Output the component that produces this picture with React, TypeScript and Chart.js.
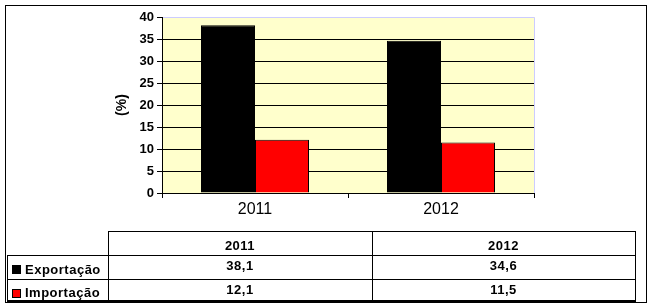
import React, { useEffect, useRef } from "react";
import { Chart, registerables } from "chart.js";

Chart.register(...registerables);

const categories = ["2011", "2012"];
const seriesNames = ["Exportação", "Importação"];
const exportacao = [38.1, 34.6];
const importacao = [12.1, 11.5];
const seriesColors = ["#000000", "#FF0000"];
const yMin = 0;
const yMax = 40;
const yStep = 5;
const yTitle = "(%)";

const FONT = "Arial, 'Liberation Sans', sans-serif";

const fmt = (v: number) => v.toFixed(1).replace(".", ",");

const plotDecor = {
  id: "plotDecor",
  beforeDraw(chart: any) {
    const { ctx, chartArea } = chart;
    ctx.save();
    ctx.fillStyle = "#FFFFCC";
    ctx.fillRect(chartArea.left, chartArea.top, chartArea.right - chartArea.left + 1, chartArea.bottom - chartArea.top);
    ctx.restore();
  },
  afterDatasetsDraw(chart: any) {
    const { ctx, chartArea } = chart;
    ctx.save();
    ctx.strokeStyle = "#CCCCFF";
    ctx.lineWidth = 1;
    ctx.beginPath();
    ctx.moveTo(chartArea.left + 1, chartArea.top + 0.5);
    ctx.lineTo(chartArea.right + 0.5, chartArea.top + 0.5);
    ctx.lineTo(chartArea.right + 0.5, chartArea.bottom);
    ctx.stroke();
    ctx.restore();
  },
};

const line = (left: number, top: number, width: number, height: number): React.CSSProperties => ({
  position: "absolute",
  left,
  top,
  width,
  height,
  background: "#000",
});

export default function App() {
  const canvasRef = useRef<HTMLCanvasElement | null>(null);

  useEffect(() => {
    if (!canvasRef.current) return;
    const chart = new Chart(canvasRef.current, {
      type: "bar",
      data: {
        labels: categories,
        datasets: [
          {
            label: seriesNames[0],
            data: exportacao,
            backgroundColor: seriesColors[0],
            borderColor: "#000",
            borderWidth: 1,
          },
          {
            label: seriesNames[1],
            data: importacao,
            backgroundColor: seriesColors[1],
            borderColor: "#000",
            borderWidth: 1,
          },
        ],
      },
      options: {
        responsive: false,
        animation: false,
        devicePixelRatio: 1,
        layout: { padding: { left: 111, top: 17, right: 118, bottom: 84 } },
        datasets: { bar: { barPercentage: 1, categoryPercentage: 108 / 186 } },
        plugins: { legend: { display: false }, tooltip: { enabled: false }, title: { display: false } },
        scales: {
          x: {
            offset: true,
            grid: { display: true, drawOnChartArea: false, drawTicks: true, tickLength: 5, offset: true, color: "#000", tickColor: "#000" },
            border: { display: true, color: "#000", width: 1 },
            ticks: { color: "#000", font: { family: FONT, size: 16 }, padding: 2 },
            afterFit: (s: any) => {
              s.height = 30;
            },
          },
          y: {
            min: yMin,
            max: yMax,
            ticks: { stepSize: yStep, color: "#000", font: { family: FONT, size: 13, weight: "bold" }, padding: 3 },
            grid: {
              color: (c: any) => (c.tick && c.tick.value === yMax ? "rgba(0,0,0,0)" : "#000"),
              tickColor: "#000",
              tickLength: 5,
              lineWidth: 1,
            },
            border: { display: true, color: "#000", width: 1 },
            title: { display: true, text: yTitle, color: "#000", font: { family: FONT, size: 14, weight: "bold" }, padding: { top: 3, bottom: 3 } },
            afterFit: (s: any) => {
              s.width = 51;
            },
          },
        },
      },
      plugins: [plotDecor],
    } as any);
    return () => chart.destroy();
  }, []);

  const textStyle = (left: number, capCenter: number, width: number, align: "center" | "left"): React.CSSProperties => ({
    position: "absolute",
    left,
    top: capCenter - 10,
    width,
    height: 20,
    lineHeight: "20px",
    textAlign: align,
    fontFamily: FONT,
    fontSize: 13,
    fontWeight: "bold",
    letterSpacing: "0.5px",
    color: "#000",
    whiteSpace: "nowrap",
  });

  const colLefts = [108, 372];
  const colWidths = [264, 263];
  const rowCaps = [245.5, 265.5, 290];
  const labelCaps = [269.5, 293];
  const series = [exportacao, importacao];

  return (
    <div style={{ position: "absolute", left: 0, top: 0, width: 652, height: 307, background: "#fff", overflow: "hidden" }}>
      <canvas ref={canvasRef} width={652} height={307} style={{ position: "absolute", left: 0, top: 0, width: 652, height: 307 }} />
      {/* outer frame */}
      <div style={{ position: "absolute", left: 5, top: 5, width: 642, height: 298, border: "1px solid #000", boxSizing: "border-box" }} />
      {/* table lines */}
      <div style={line(108, 231, 528, 1)} />
      <div style={line(7, 255, 629, 1)} />
      <div style={line(7, 279, 629, 1)} />
      <div style={line(7, 300, 629, 2)} />
      <div style={line(7, 255, 1, 46)} />
      <div style={line(108, 231, 1, 70)} />
      <div style={line(372, 231, 1, 70)} />
      <div style={line(635, 231, 1, 70)} />
      {categories.map((c, i) => (
        <div key={"h" + c} style={textStyle(colLefts[i], rowCaps[0], colWidths[i], "center")}>
          {c}
        </div>
      ))}
      {series.map((vals, r) =>
        vals.map((v, i) => (
          <div key={"v" + r + "-" + i} style={textStyle(colLefts[i], rowCaps[r + 1], colWidths[i], "center")}>
            {fmt(v)}
          </div>
        ))
      )}
      {seriesNames.map((n, r) => (
        <React.Fragment key={"l" + n}>
          <div
            style={{
              position: "absolute",
              left: 12,
              top: labelCaps[r] - 4.5,
              width: 9,
              height: 9,
              background: seriesColors[r],
              border: "1px solid #000",
              boxSizing: "border-box",
            }}
          />
          <div style={textStyle(25, labelCaps[r], 84, "left")}>{n}</div>
        </React.Fragment>
      ))}
    </div>
  );
}
